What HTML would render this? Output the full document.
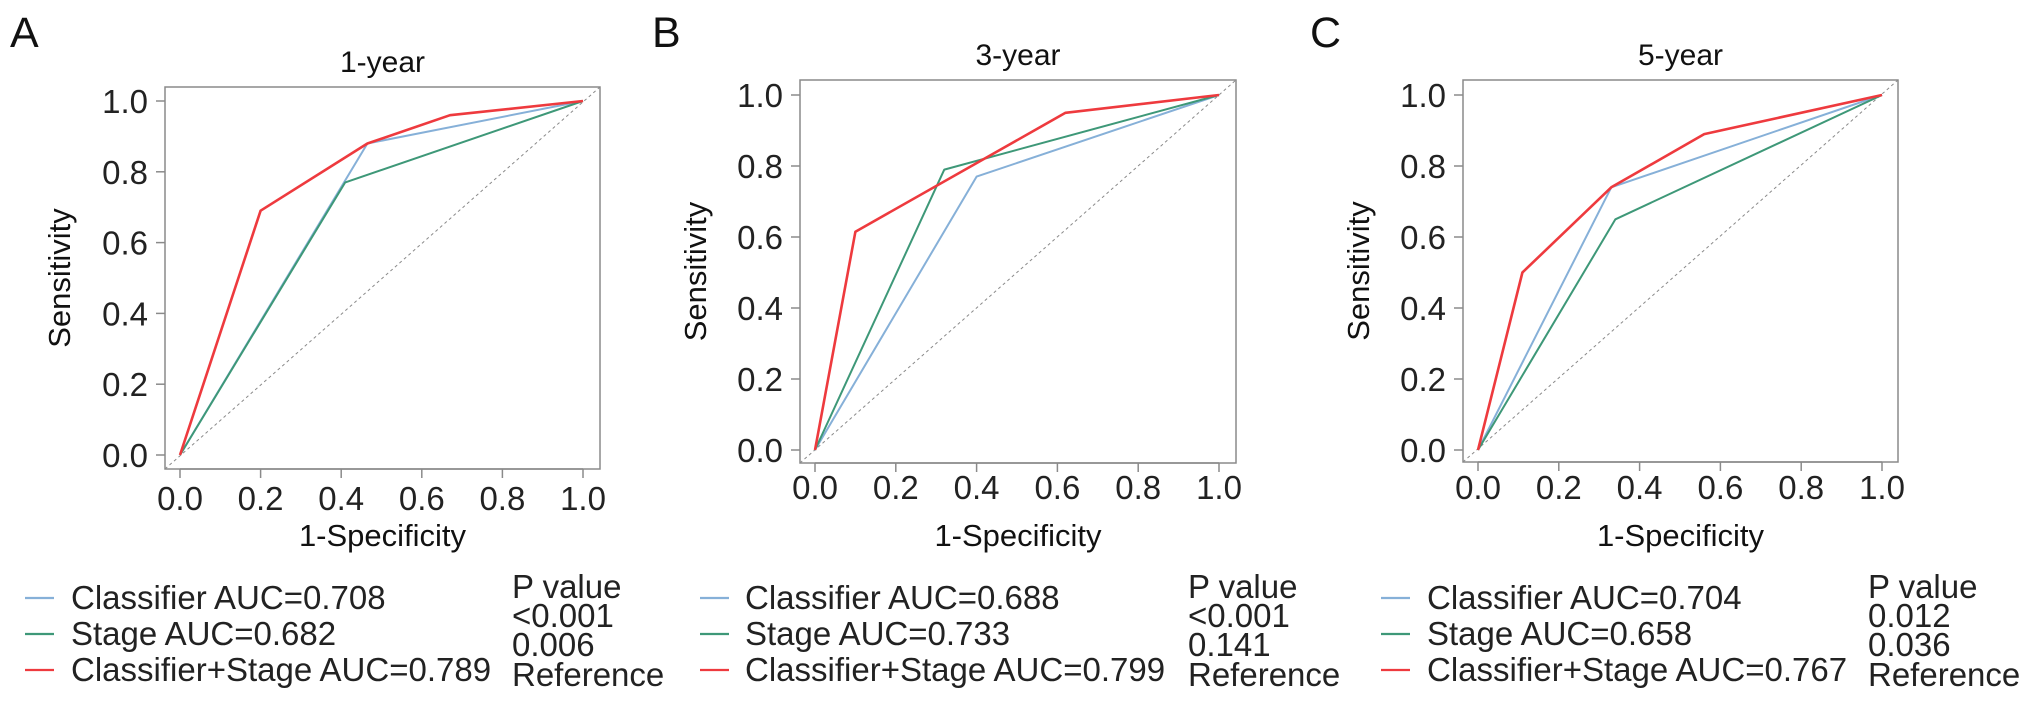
<!DOCTYPE html>
<html><head><meta charset="utf-8"><style>
html,body{margin:0;padding:0;background:#fff;width:2032px;height:711px;overflow:hidden}
svg{display:block;font-family:"Liberation Sans",Arial,sans-serif}
</style></head><body>
<svg id="fig" width="2032" height="711" viewBox="0 0 2032 711"></svg>
<script>
// Panel data
const panelTitles = ["1-year", "3-year", "5-year"];
const panelLetters = ["A", "B", "C"];
const seriesNames = ["Classifier", "Stage", "Classifier+Stage"];
const aucA = ["0.708", "0.682", "0.789"];
const aucB = ["0.688", "0.733", "0.799"];
const aucC = ["0.704", "0.658", "0.767"];
const pA = ["<0.001", "0.006", "Reference"];
const pB = ["<0.001", "0.141", "Reference"];
const pC = ["0.012", "0.036", "Reference"];
const tickValues = [0, 0.2, 0.4, 0.6, 0.8, 1.0];
const tickLabels = ["0.0", "0.2", "0.4", "0.6", "0.8", "1.0"];
// ROC points [fpr, tpr]
const clsA_x = [0, 0.465, 1], clsA_y = [0, 0.88, 1];
const stgA_x = [0, 0.41, 1], stgA_y = [0, 0.77, 1];
const cmbA_x = [0, 0.2, 0.465, 0.67, 1], cmbA_y = [0, 0.69, 0.88, 0.96, 1];
const clsB_x = [0, 0.4, 1], clsB_y = [0, 0.77, 1];
const stgB_x = [0, 0.32, 1], stgB_y = [0, 0.79, 1];
const cmbB_x = [0, 0.1, 0.62, 1], cmbB_y = [0, 0.615, 0.95, 1];
const clsC_x = [0, 0.33, 1], clsC_y = [0, 0.74, 1];
const stgC_x = [0, 0.34, 1], stgC_y = [0, 0.65, 1];
const cmbC_x = [0, 0.11, 0.33, 0.56, 1], cmbC_y = [0, 0.50, 0.74, 0.89, 1];

const colors = ["#86b0d8", "#3e9878", "#ee3a3e"];
const NS = "http://www.w3.org/2000/svg";
const svg = document.getElementById("fig");
function mk(tag, attrs, parent, text) {
  const e = document.createElementNS(NS, tag);
  for (const k in attrs) e.setAttribute(k, attrs[k]);
  if (text !== undefined) e.textContent = text;
  (parent || svg).appendChild(e);
  return e;
}
const layouts = [
  {L:165,R:600,T:87,B:469,x0:180,x1:583,y0:455,y1:101,letterX:10,titleY:72,tickY:510,xTitleY:546,yLabX:70,legLineX:25,legTextX:71,pX:512},
  {L:800,R:1236,T:80,B:463,x0:815,x1:1219,y0:450,y1:95,letterX:652,titleY:65,tickY:499,xTitleY:546,yLabX:706,legLineX:700,legTextX:745,pX:1188},
  {L:1463,R:1898,T:80,B:462,x0:1478,x1:1882,y0:450,y1:95,letterX:1310,titleY:65,tickY:499,xTitleY:546,yLabX:1369,legLineX:1381,legTextX:1427,pX:1868}
];
const aucs = [aucA, aucB, aucC];
const pvals = [pA, pB, pC];
const data = [
  [[clsA_x, clsA_y], [stgA_x, stgA_y], [cmbA_x, cmbA_y]],
  [[clsB_x, clsB_y], [stgB_x, stgB_y], [cmbB_x, cmbB_y]],
  [[clsC_x, clsC_y], [stgC_x, stgC_y], [cmbC_x, cmbC_y]]
];
layouts.forEach((P, i) => {
  const g = mk("g", {});
  
  
  const sx = v => P.x0 + v * (P.x1 - P.x0);
  const sy = v => P.y0 - v * (P.y0 - P.y1);
  const letter = mk("text", {x: P.letterX, y: 47, "font-size": 43, fill: "#111"}, g, panelLetters[i]);
  
  
  const t = mk("text", {x: (P.L + P.R) / 2, y: P.titleY, "font-size": 30, "text-anchor": "middle", fill: "#111"}, g, panelTitles[i]);
  
  
  const box = mk("rect", {x: P.L, y: P.T, width: P.R - P.L, height: P.B - P.T, fill: "none", stroke: "#8a8a8a", "stroke-width": 1.5}, g);
  
  
  const diag = mk("line", {x1: P.L, y1: P.B, x2: P.R, y2: P.T, stroke: "#8a8a8a", "stroke-width": 1, "stroke-dasharray": "3,3"}, g);
  
  
  // x axis
  mk("line", {x1: sx(0), y1: P.B, x2: sx(1), y2: P.B, stroke: "#8a8a8a", "stroke-width": 1.5}, g);
  tickValues.forEach((v, k) => {
    mk("line", {x1: sx(v), y1: P.B, x2: sx(v), y2: P.B + 9, stroke: "#8a8a8a", "stroke-width": 1.5}, g);
    const xl = mk("text", {x: sx(v), y: P.tickY, "font-size": 33, "text-anchor": "middle", fill: "#222"}, g, tickLabels[k]);
    
    
    mk("line", {x1: P.L, y1: sy(v), x2: P.L - 9, y2: sy(v), stroke: "#8a8a8a", "stroke-width": 1.5}, g);
    const yl = mk("text", {x: P.L - 17, y: sy(v) + 12, "font-size": 33, "text-anchor": "end", fill: "#222"}, g, tickLabels[k]);
    
    
  });
  const xt = mk("text", {x: (P.L + P.R) / 2, y: P.xTitleY, "font-size": 31, "text-anchor": "middle", fill: "#111"}, g, "1-Specificity");
  
  
  const cy = (P.T + P.B) / 2;
  const yt = mk("text", {x: P.yLabX, y: cy, "font-size": 31, "text-anchor": "middle", fill: "#111", transform: `rotate(-90 ${P.yLabX} ${cy})`}, g, "Sensitivity");
  
  
  // series
  data[i].forEach((s, j) => {
    const pts = s[0].map((x, k) => sx(x).toFixed(1) + "," + sy(s[1][k]).toFixed(1)).join(" ");
    const pl = mk("polyline", {points: pts, fill: "none", stroke: colors[j], "stroke-width": j === 2 ? 2.6 : 2, "stroke-linejoin": "round"}, g);
    
    
  });
  // legend
  [609, 645, 681].forEach((by, j) => {
    const le = mk("g", {}, g);
    
    
    mk("line", {x1: P.legLineX, y1: by - 11, x2: P.legLineX + 29, y2: by - 11, stroke: colors[j], "stroke-width": 2.2}, le);
    mk("text", {x: P.legTextX, y: by, "font-size": 33, fill: "#222"}, le, seriesNames[j] + " AUC=" + aucs[i][j]);
  });
  const pv = mk("g", {}, g);
  
  
  mk("text", {x: P.pX, y: 598, "font-size": 33, fill: "#222"}, pv, "P value");
  [627, 656, 686].forEach((by, j) => {
    mk("text", {x: P.pX, y: by, "font-size": 33, fill: "#222"}, pv, pvals[i][j]);
  });
});
</script>
</body></html>
